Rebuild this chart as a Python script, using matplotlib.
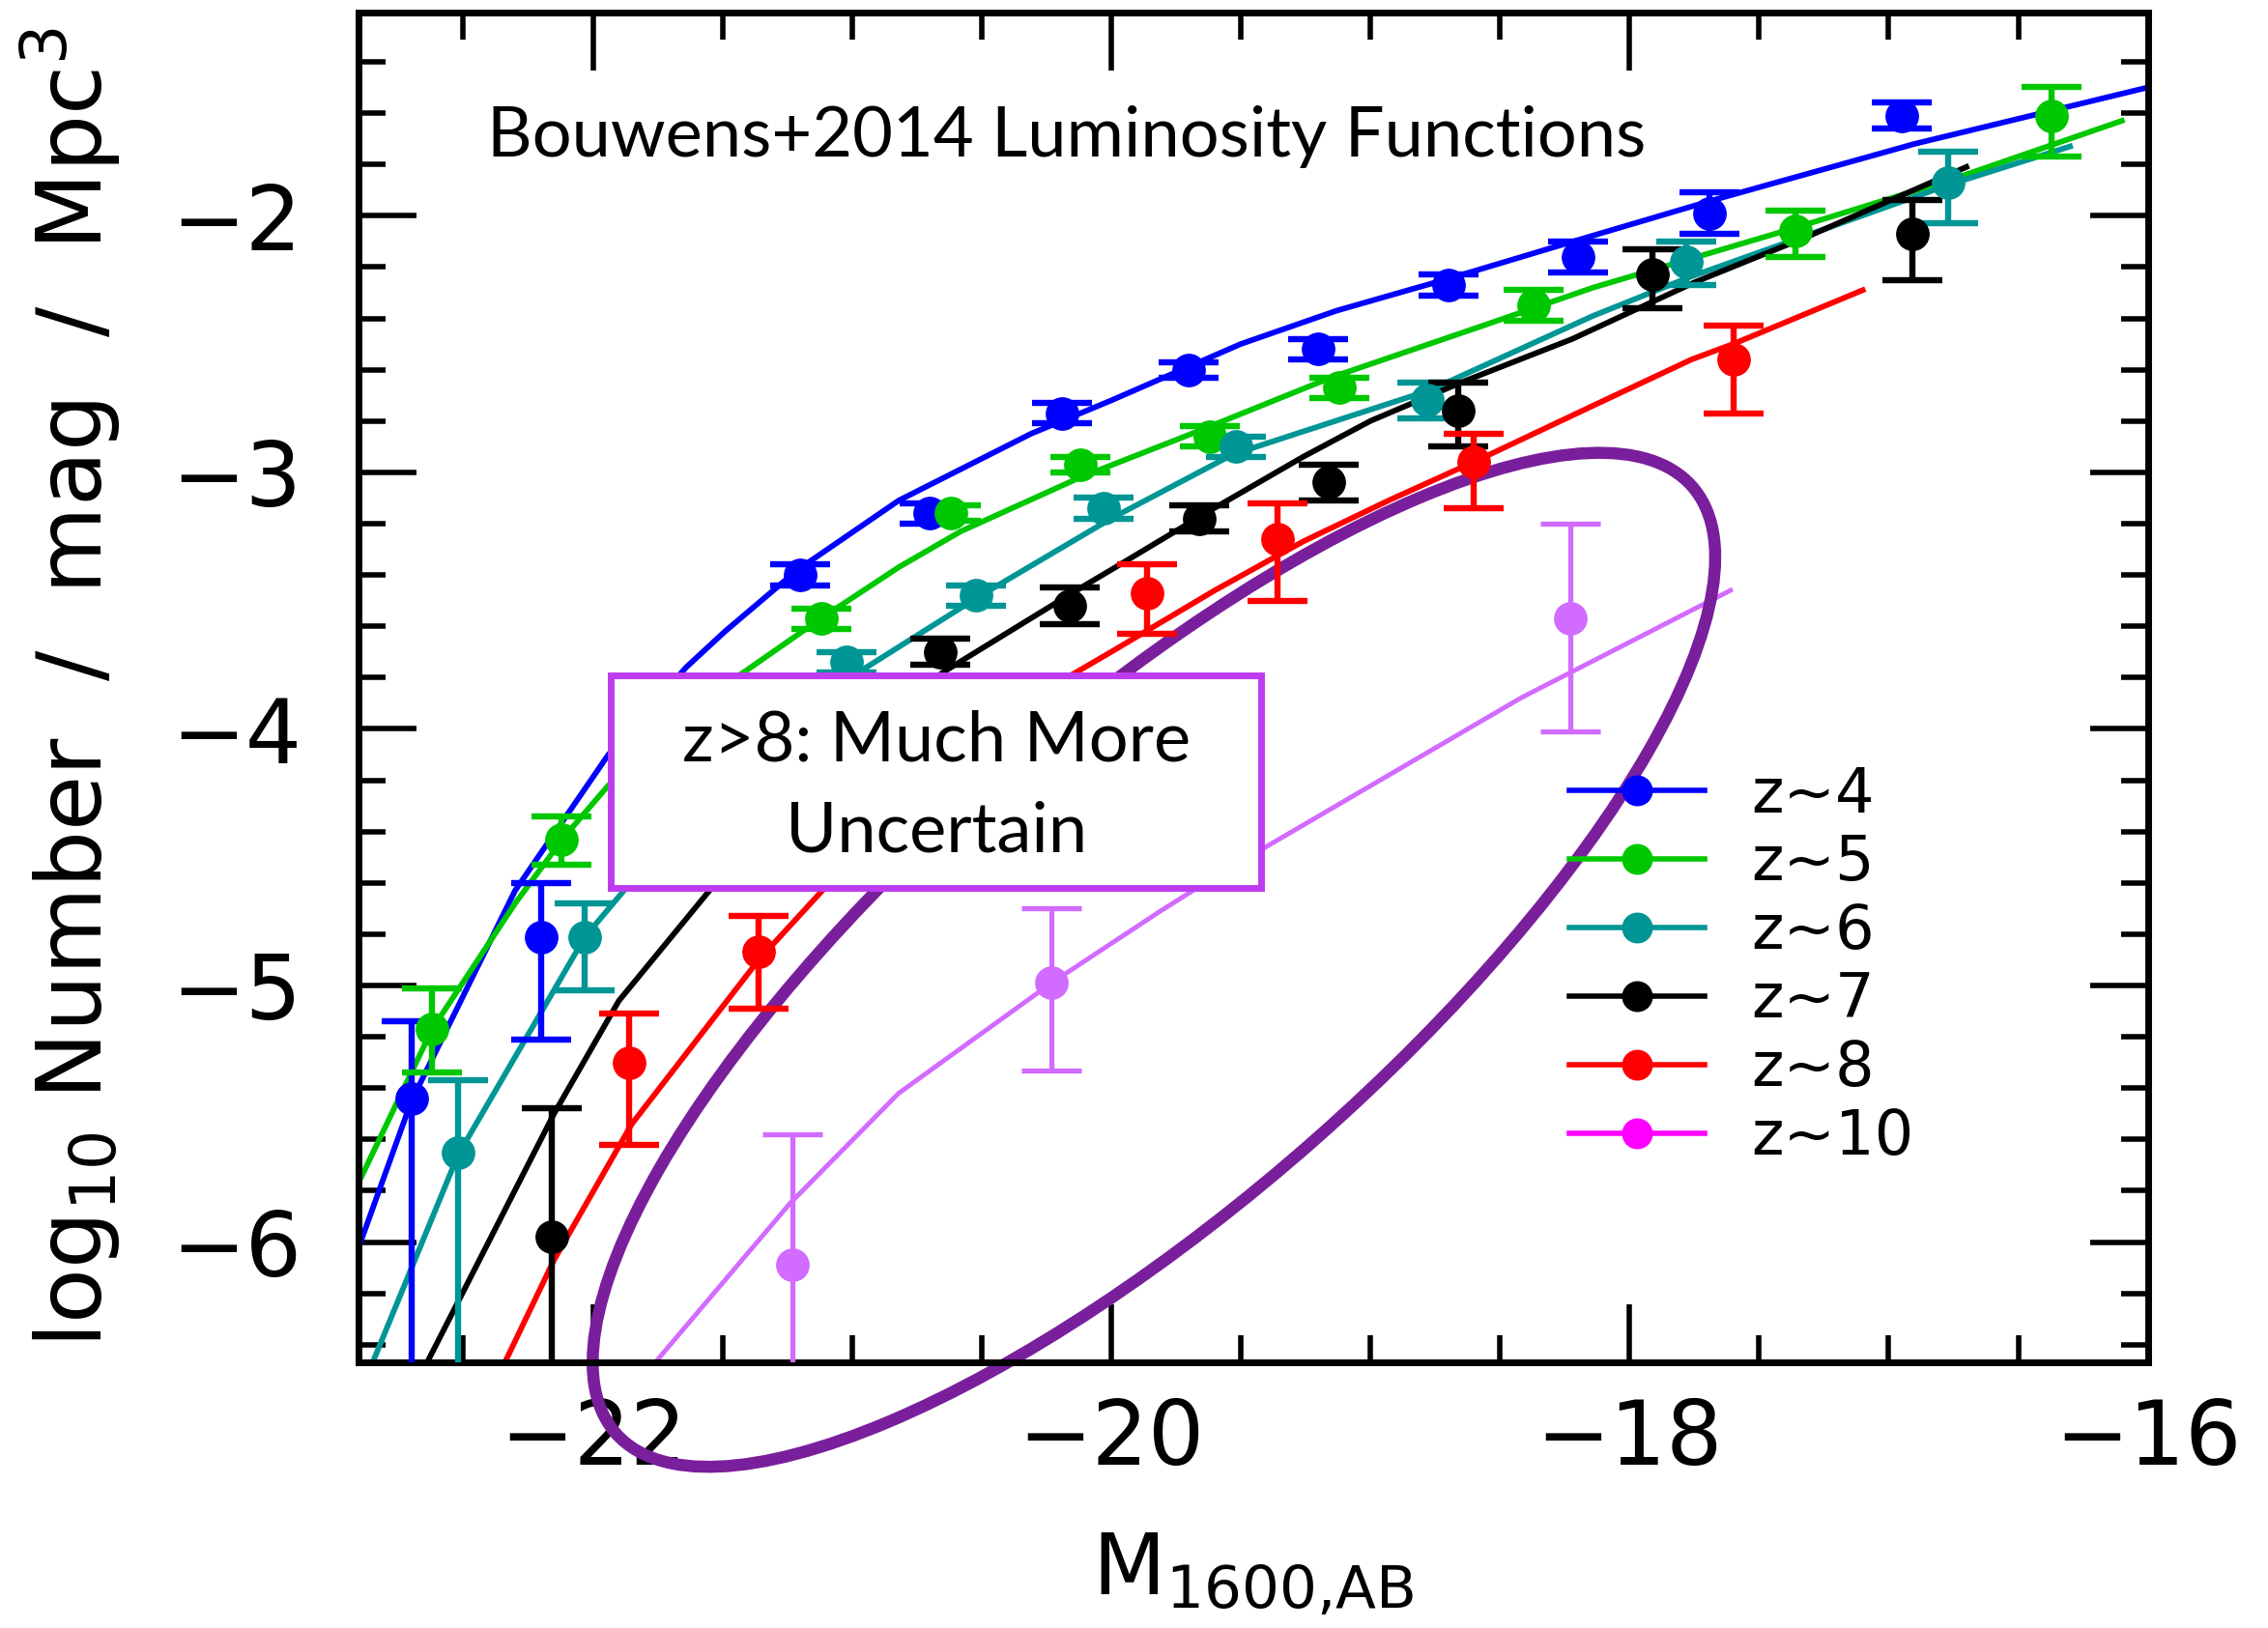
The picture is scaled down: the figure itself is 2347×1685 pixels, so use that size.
import matplotlib
matplotlib.use('Agg')
import matplotlib.pyplot as plt
from matplotlib.patches import Ellipse, Rectangle
from matplotlib.lines import Line2D
from matplotlib.ticker import MultipleLocator

# binned luminosity function points
M4 = [-22.70, -22.20, -21.20, -20.70, -20.19, -19.70, -19.20, -18.70, -18.20, -17.69, -16.95]
phi4 = [-5.44, -4.81, -3.40, -3.16, -2.77, -2.60, -2.52, -2.27, -2.16, -1.99, -1.61]
hi4 = [0.30, 0.21, 0.04, 0.04, 0.04, 0.03, 0.04, 0.04, 0.06, 0.08, 0.05]
lo4 = [1.50, 0.40, 0.04, 0.04, 0.04, 0.03, 0.04, 0.04, 0.06, 0.08, 0.05]

M5 = [-22.62, -22.12, -21.12, -20.62, -20.12, -19.62, -19.12, -18.37, -17.36, -16.37]
phi5 = [-5.17, -4.43, -3.57, -3.16, -2.97, -2.86, -2.67, -2.35, -2.06, -1.61]
hi5 = [0.16, 0.09, 0.04, 0.03, 0.03, 0.04, 0.04, 0.06, 0.08, 0.11]
lo5 = [0.17, 0.10, 0.04, 0.03, 0.03, 0.04, 0.04, 0.06, 0.10, 0.16]

M6 = [-22.52, -22.03, -21.02, -20.52, -20.03, -19.52, -18.78, -17.78, -16.77]
phi6 = [-5.65, -4.81, -3.74, -3.48, -3.14, -2.90, -2.72, -2.18, -1.87]
hi6 = [0.28, 0.13, 0.04, 0.04, 0.04, 0.04, 0.07, 0.08, 0.12]
lo6 = [1.50, 0.21, 0.04, 0.04, 0.04, 0.04, 0.07, 0.09, 0.16]

M7 = [-22.16, -20.66, -20.16, -19.66, -19.16, -18.66, -17.91, -16.91]
phi7 = [-5.98, -3.70, -3.52, -3.18, -3.04, -2.76, -2.23, -2.07]
hi7 = [0.50, 0.05, 0.07, 0.05, 0.07, 0.11, 0.10, 0.13]
lo7 = [1.50, 0.05, 0.07, 0.05, 0.07, 0.14, 0.13, 0.18]

M8 = [-21.86, -21.36, -19.86, -19.36, -18.60, -17.60]
phi8 = [-5.30, -4.87, -3.47, -3.26, -2.96, -2.56]
hi8 = [0.19, 0.14, 0.11, 0.14, 0.11, 0.13]
lo8 = [0.32, 0.22, 0.16, 0.24, 0.18, 0.21]

M10 = [-21.23, -20.23, -18.23]
phi10 = [-6.09, -4.99, -3.57]
hi10 = [0.51, 0.29, 0.37]
lo10 = [1.00, 0.34, 0.44]

# Schechter fit curves (traced)
fit4_x = [-22.90, -22.70, -22.30, -21.94, -21.64, -21.49, -21.21, -20.82, -20.31, -20.00, -19.50, -19.13, -18.68, -18.25, -17.68, -16.90, -16.00]
fit4_y = [-6.01, -5.45, -4.63, -4.10, -3.76, -3.62, -3.38, -3.11, -2.85, -2.72, -2.50, -2.37, -2.24, -2.11, -1.94, -1.72, -1.50]
fit5_x = [-22.90, -22.62, -22.30, -22.11, -21.94, -21.49, -21.12, -20.82, -20.58, -20.12, -19.69, -19.15, -18.57, -18.14, -17.37, -16.76, -16.10]
fit5_y = [-5.76, -5.17, -4.68, -4.42, -4.22, -3.83, -3.57, -3.37, -3.23, -3.02, -2.85, -2.63, -2.43, -2.28, -2.05, -1.86, -1.63]
fit6_x = [-22.85, -22.52, -22.03, -21.83, -20.96, -20.52, -20.00, -19.53, -18.77, -18.14, -17.77, -16.77, -16.30]
fit6_y = [-6.47, -5.66, -4.81, -4.57, -3.77, -3.49, -3.18, -2.93, -2.68, -2.39, -2.24, -1.88, -1.73]
fit7_x = [-22.64, -22.15, -21.90, -21.55, -20.65, -20.15, -20.00, -19.62, -19.26, -19.00, -18.65, -18.22, -17.75, -17.31, -16.70]
fit7_y = [-6.47, -5.50, -5.06, -4.63, -3.78, -3.47, -3.38, -3.15, -2.94, -2.80, -2.65, -2.48, -2.26, -2.08, -1.81]
fit8_x = [-22.34, -22.15, -21.85, -21.36, -21.06, -20.17, -20.00, -19.60, -19.26, -18.93, -18.58, -18.14, -17.76, -17.60, -17.10]
fit8_y = [-6.47, -6.07, -5.54, -4.90, -4.57, -3.80, -3.70, -3.46, -3.27, -3.11, -2.95, -2.74, -2.56, -2.50, -2.29]
fit10_x = [-21.76, -21.24, -20.82, -20.23, -19.81, -19.59, -19.42, -18.42, -17.61]
fit10_y = [-6.47, -5.85, -5.42, -4.99, -4.71, -4.57, -4.47, -3.88, -3.46]

labels = ['z~4', 'z~5', 'z~6', 'z~7', 'z~8', 'z~10']
colors = ['#0000ff', '#00c800', '#009696', '#000000', '#ff0000', '#d26bff']
legend_colors = ['#0000ff', '#00c800', '#009696', '#000000', '#ff0000', '#ff00ff']

points = [(M4, phi4, lo4, hi4), (M5, phi5, lo5, hi5), (M6, phi6, lo6, hi6),
          (M7, phi7, lo7, hi7), (M8, phi8, lo8, hi8), (M10, phi10, lo10, hi10)]
fits = [(fit4_x, fit4_y), (fit5_x, fit5_y), (fit6_x, fit6_y),
        (fit7_x, fit7_y), (fit8_x, fit8_y), (fit10_x, fit10_y)]

fig = plt.figure(figsize=(23.47, 16.85), dpi=100)
ax = fig.add_axes([0.158, 0.163, 0.789, 0.829])

for i in range(6):
    lw = 3.5 if i == 5 else 4.2
    ax.plot(fits[i][0], fits[i][1], color=colors[i], lw=lw, zorder=2)
    M, phi, lo, hi = points[i]
    elw = 3.8 if i == 5 else 4.6
    ax.errorbar(M, phi, yerr=[lo, hi], fmt='o', color=colors[i], ms=24,
                elinewidth=elw, capsize=22, capthick=elw, zorder=3)

# "much more uncertain" ellipse and box
ell = Ellipse((-19.835, -4.90), 5.556, 1.874, angle=41.7, fill=False,
              edgecolor='#7a1f9c', lw=9, zorder=2.5, clip_on=False)
ax.add_patch(ell)
box = Rectangle((-21.93, -4.62), 2.51, 0.83, facecolor='white',
                edgecolor='#be3cf0', lw=5, zorder=5)
ax.add_patch(box)
ax.text(-20.675, -4.225, 'z>8: Much More\nUncertain', ha='center', va='center',
        fontsize=52, family=['Lato', 'DejaVu Sans'], linespacing=1.55, zorder=6)

ax.text(-22.41, -1.77, 'Bouwens+2014 Luminosity Functions', ha='left', va='baseline',
        fontsize=52, family=['Lato', 'DejaVu Sans'], zorder=6)

handles = [Line2D([], [], color=c, lw=4, marker='o', ms=22) for c in legend_colors]
ax.legend(handles, labels, loc='upper left', bbox_to_anchor=(0.6766, 0.443),
          frameon=False, fontsize=46, borderpad=0, borderaxespad=0,
          handlelength=2.2, handletextpad=0.75, labelspacing=0.14)

ax.set_xlim(-22.905, -16.0)
ax.set_ylim(-6.47, -1.21)
ax.xaxis.set_major_locator(MultipleLocator(2))
ax.xaxis.set_minor_locator(MultipleLocator(0.5))
ax.yaxis.set_major_locator(MultipleLocator(1))
ax.yaxis.set_minor_locator(MultipleLocator(0.2))
ax.tick_params(which='both', direction='in', top=True, right=True, width=4)
ax.tick_params(which='major', length=43, labelsize=66)
ax.tick_params(which='minor', length=20)
ax.tick_params(axis='x', which='major', pad=25)
ax.tick_params(axis='y', which='major', pad=42)
for s in ax.spines.values():
    s.set_linewidth(5)

ax.set_xlabel(r'M$_{\rm 1600{,}AB}$', fontsize=63)
ax.xaxis.set_label_coords(0.5, -0.125)
ax.xaxis.label.set_va('top')
ax.set_ylabel(r'log$_{10}$ Number  /  mag  /  Mpc$^3$', fontsize=67)
ax.yaxis.set_label_coords(-0.131, 0.5)

fig.savefig('out.png', dpi=100)
